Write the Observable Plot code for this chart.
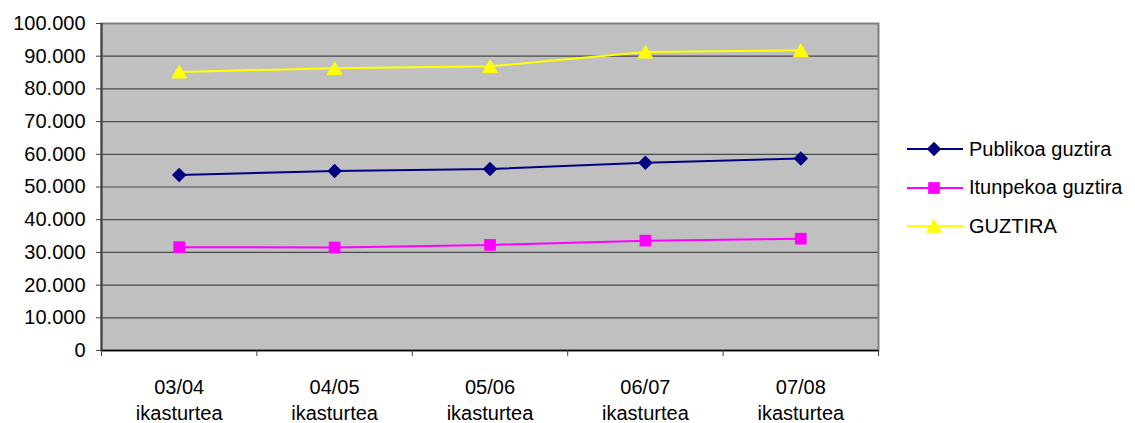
<!DOCTYPE html>
<html>
<head>
<meta charset="utf-8">
<script src="https://cdn.jsdelivr.net/npm/d3@7"></script>
<script src="https://cdn.jsdelivr.net/npm/@observablehq/plot@0.6"></script>
<style>
  html, body { margin: 0; padding: 0; background: white; }
  #wrap { position: relative; width: 1135px; height: 423px; font-family: "Liberation Sans", Arial, sans-serif; }
  #legend { position: absolute; left: 907px; top: 130px; font-size: 20px; color: black; }
  .row { position: relative; height: 38.5px; display: flex; align-items: center; }
  .row svg { display: block; margin-right: 6px; }
</style>
</head>
<body>
<div id="wrap"><div id="legend"></div></div>
<script>
const categories = ["03/04", "04/05", "05/06", "06/07", "07/08"];
const subLabel = "ikasturtea";
const seriesNames = ["Publikoa guztira", "Itunpekoa guztira", "GUZTIRA"];
const publikoa = [53700, 54900, 55500, 57400, 58700];
const itunpekoa = [31600, 31500, 32300, 33600, 34200];
const guztira = [85200, 86300, 86900, 91300, 91800];
const yTicks = [0, 10000, 20000, 30000, 40000, 50000, 60000, 70000, 80000, 90000, 100000];

const colors = ["#000080", "#ff00ff", "#ffff00"];
const symbols = ["square", "square", "triangle"];
const rotates = [45, 0, 0];
const radii = [5.8, 6.6, 6];
const dys = [0, 0, 2];

const seriesValues = [publikoa, itunpekoa, guztira];
const rows = [];
seriesNames.forEach((s, k) => seriesValues[k].forEach((v, i) => rows.push({series: s, k, pos: i + 0.5, value: v})));

const fmt = d => d === 0 ? "0" : d3.format(",")(d).replace(/,/g, ".");

const marks = [
  Plot.frame({fill: "#c0c0c0", stroke: null}),
  Plot.gridY(yTicks, {stroke: "#4a4a4a", strokeOpacity: 1, strokeWidth: 1.2}),
  Plot.frame({stroke: "#808080", strokeWidth: 2}),
  Plot.ruleX([0], {stroke: "#404040", strokeWidth: 2}),
  Plot.ruleY([0], {stroke: "#000", strokeWidth: 1.5}),
  Plot.axisY(yTicks, {tickSize: 5, tickPadding: 11, tickFormat: fmt, stroke: "#404040", fill: "black", label: null}),
  Plot.axisX(d3.range(categories.length + 1), {tickSize: 6, tickFormat: () => "", stroke: "#404040", label: null}),
  Plot.axisX(categories.map((c, i) => i + 0.5), {
    tickSize: 0, tickPadding: 25, lineHeight: 1.3, fill: "black", label: null,
    tickFormat: d => categories[Math.floor(d)] + "\n" + subLabel
  })
];
seriesNames.forEach((s, k) => {
  const data = rows.filter(r => r.k === k);
  marks.push(Plot.line(data, {x: "pos", y: "value", stroke: colors[k], strokeWidth: 2}));
});
seriesNames.forEach((s, k) => {
  const data = rows.filter(r => r.k === k);
  marks.push(Plot.dot(data, {x: "pos", y: "value", symbol: symbols[k], r: radii[k], rotate: rotates[k], dy: dys[k], fill: colors[k], stroke: null}));
});

const chart = Plot.plot({
  width: 1135, height: 423,
  marginLeft: 101, marginRight: 257, marginTop: 23, marginBottom: 73,
  x: {domain: [0, categories.length], axis: null, label: null},
  y: {domain: [0, 100000], axis: null, label: null},
  style: {background: "white", fontFamily: "'Liberation Sans', Arial, sans-serif", fontSize: "20px", color: "black", overflow: "visible"},
  marks
});
const wrap = document.getElementById("wrap");
wrap.insertBefore(chart, wrap.firstChild);

const legend = d3.select("#legend");
const symTypes = [d3.symbolSquare, d3.symbolSquare, d3.symbolTriangle];
seriesNames.forEach((s, k) => {
  const row = legend.append("div").attr("class", "row");
  const svg = row.append("svg").attr("width", 56).attr("height", 20);
  svg.append("line").attr("x1", 0).attr("x2", 56).attr("y1", 10).attr("y2", 10).attr("stroke", colors[k]).attr("stroke-width", 2);
  svg.append("path")
    .attr("d", d3.symbol(symTypes[k], Math.PI * radii[k] * radii[k])())
    .attr("transform", `translate(27,${10 + dys[k]}) rotate(${rotates[k]})`)
    .attr("fill", colors[k]);
  row.append("span").text(s);
});
</script>
</body>
</html>
